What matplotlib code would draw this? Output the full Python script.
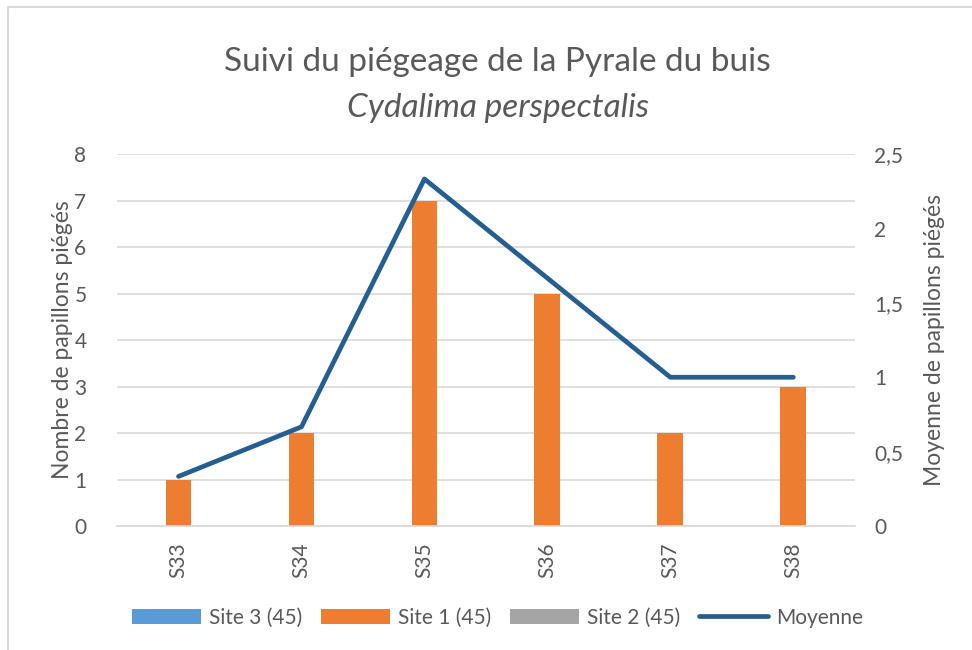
import matplotlib
matplotlib.use("Agg")
import matplotlib.pyplot as plt
from matplotlib.ticker import FuncFormatter
import numpy as np

plt.rcParams["font.family"] = ["Lato", "DejaVu Sans"]

WEEKS = ["S33", "S34", "S35", "S36", "S37", "S38"]
SITE3 = [0, 0, 0, 0, 0, 0]
SITE1 = [1, 2, 7, 5, 2, 3]
SITE2 = [0, 0, 0, 0, 0, 0]
MEAN = [1 / 3, 2 / 3, 7 / 3, 5 / 3, 1.0, 1.0]

TXT = "#595959"
GRID = "#d9d9d9"

fig = plt.figure(figsize=(9.72, 6.5), dpi=100)
ax = fig.add_axes([0.1204, 0.1908, 0.759, 0.572])
ax2 = ax.twinx()

x = np.arange(len(WEEKS))
w = 0.21
ax.bar(x - w, SITE3, w, color="#5b9bd5", label="Site 3 (45)", zorder=2)
ax.bar(x, SITE1, w, color="#ed7d31", label="Site 1 (45)", zorder=2)
ax.bar(x + w, SITE2, w, color="#a5a5a5", label="Site 2 (45)", zorder=2)
ax2.plot(x, MEAN, color="#255e91", lw=3.4, label="Moyenne", solid_capstyle="round")

ax.set_xlim(-0.5, len(WEEKS) - 0.5)
ax.set_ylim(0, 8)
ax.set_yticks(range(0, 9))
ax2.set_ylim(0, 2.5)
ax2.set_yticks(np.arange(0, 2.51, 0.5))
ax2.yaxis.set_major_formatter(FuncFormatter(
    lambda v, p: "0" if v == 0 else ("%g" % v).replace(".", ",")))

ax.set_xticks(x)
ax.set_xticklabels(WEEKS, rotation=90)
ax.grid(axis="y", color=GRID, lw=1.2, zorder=0)
for a in (ax, ax2):
    for s in a.spines.values():
        s.set_visible(False)
    a.tick_params(length=0, labelsize=15, colors=TXT)
ax.spines["bottom"].set_visible(True)
ax.spines["bottom"].set_color(GRID)
ax.spines["bottom"].set_linewidth(1.2)
ax.tick_params(axis="y", pad=22)
ax2.tick_params(axis="y", pad=14)
ax.tick_params(axis="x", pad=12)

ax.set_ylabel("Nombre de papillons piégés", fontsize=16.5, color=TXT, labelpad=1)
ax2.set_ylabel("Moyenne de papillons piégés", fontsize=16.5, color=TXT, labelpad=15)

fig.text(0.512, 0.905, "Suivi du piégeage de la Pyrale du buis", ha="center",
         va="center", fontsize=24, color=TXT)
fig.text(0.512, 0.834, "Cydalima perspectalis", ha="center", va="center",
         fontsize=24, color=TXT, style="italic")

h1, l1 = ax.get_legend_handles_labels()
h2, l2 = ax2.get_legend_handles_labels()
fig.legend(h1 + h2, l1 + l2, loc="center", bbox_to_anchor=(0.512, 0.05), ncol=4,
           frameon=False, fontsize=15, labelcolor=TXT, handlelength=3.3,
           handleheight=0.7, columnspacing=0.9, handletextpad=0.4)

fig.patches.append(plt.Rectangle((0.008, -0.01), 1.1, 1.0, transform=fig.transFigure,
                                 fill=False, edgecolor="#d9d9d9", lw=1.5))

fig.savefig("out.png", dpi=100)
